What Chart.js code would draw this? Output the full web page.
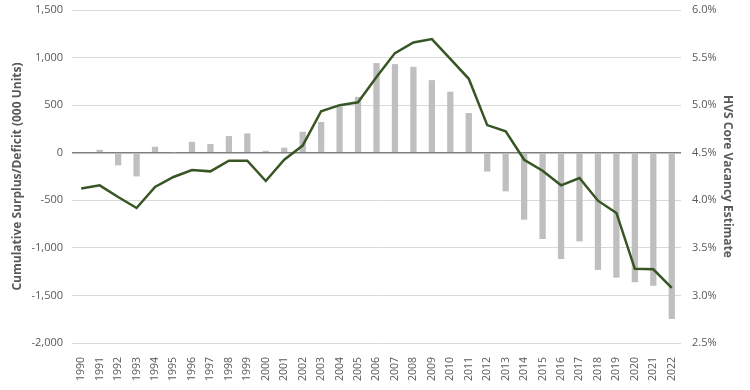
<!DOCTYPE html>
<html>
<head>
<meta charset="utf-8">
<script src="https://cdn.jsdelivr.net/npm/chart.js@4"></script>
<style>
  html, body { margin: 0; padding: 0; background: #fff; }
  #wrap { width: 750px; height: 390px; }
</style>
</head>
<body>
<div id="wrap"><canvas id="chart" width="750" height="390"></canvas></div>
<script>
// years on the category axis
const years = [
  "1990", "1991", "1992", "1993", "1994", "1995", "1996", "1997", "1998", "1999",
  "2000", "2001", "2002", "2003", "2004", "2005", "2006", "2007", "2008", "2009",
  "2010", "2011", "2012", "2013", "2014", "2015", "2016", "2017", "2018", "2019",
  "2020", "2021", "2022"
];

// cumulative surplus / deficit, 000 units (bars, left axis)
const surplus = [
  0, 30, -133, -249, 63, 5, 115, 91, 175, 203,
  20, 53, 220, 324, 486, 587, 942, 931, 903, 763,
  641, 417, -198, -406, -704, -907, -1117, -932, -1232, -1313,
  -1362, -1397, -1747
];

// HVS core vacancy estimate, % (line, right axis)
const vacancy = [
  4.125, 4.157, 4.035, 3.919, 4.14, 4.245, 4.318, 4.304, 4.416, 4.416,
  4.203, 4.426, 4.575, 4.936, 5.0, 5.03, 5.295, 5.547, 5.659, 5.694,
  5.487, 5.277, 4.79, 4.724, 4.426, 4.31, 4.157, 4.234, 3.996, 3.867,
  3.28, 3.275, 3.08
];

const leftTicks = { min: -2000, max: 1500, step: 500 };
const rightTicks = { min: 2.5, max: 6.0, step: 0.5 };

const textColor = "#595959";
const font = "'Open Sans', 'DejaVu Sans', sans-serif";

// fixed margins so the plot area sits where the original does
function fixVertical(width) {
  return (scale) => {
    scale.width = width;
    scale.paddingTop = 0;
    scale.paddingBottom = 0;
  };
}

new Chart(document.getElementById("chart"), {
  data: {
    labels: years,
    datasets: [
      {
        type: "line",
        label: "HVS Core Vacancy Estimate",
        data: vacancy,
        yAxisID: "y1",
        borderColor: "#375623",
        borderWidth: 2.5,
        pointRadius: 0,
        tension: 0,
        order: 0
      },
      {
        type: "bar",
        label: "Cumulative Surplus/Deficit",
        data: surplus,
        yAxisID: "y",
        backgroundColor: "#bfbfbf",
        barPercentage: 0.34,
        categoryPercentage: 1,
        order: 1
      }
    ]
  },
  options: {
    responsive: false,
    animation: false,
    layout: { padding: { top: 10 } },
    plugins: {
      legend: { display: false },
      tooltip: { enabled: false }
    },
    scales: {
      x: {
        grid: { display: false },
        border: { display: false },
        ticks: {
          color: textColor,
          font: { family: font, size: 10.5 },
          minRotation: 90,
          maxRotation: 90,
          autoSkip: false,
          padding: 6
        },
        afterFit: (scale) => { scale.height = 47; }
      },
      y: {
        position: "left",
        min: leftTicks.min,
        max: leftTicks.max,
        border: { display: false },
        grid: {
          drawTicks: false,
          color: (ctx) => ctx.tick && ctx.tick.value === 0 ? "#7f7f7f" : "#d9d9d9",
          lineWidth: (ctx) => ctx.tick && ctx.tick.value === 0 ? 1.5 : 1
        },
        ticks: {
          stepSize: leftTicks.step,
          color: textColor,
          font: { family: font, size: 11 },
          padding: 9,
          callback: (v) => v.toLocaleString("en-US")
        },
        title: {
          display: true,
          text: "Cumulative Surplus/Deficit (000 Units)",
          color: textColor,
          font: { family: font, size: 12, weight: "bold" },
          padding: { top: 10, bottom: 0 }
        },
        afterFit: fixVertical(72)
      },
      y1: {
        position: "right",
        min: rightTicks.min,
        max: rightTicks.max,
        border: { display: false },
        grid: { display: false, drawTicks: false },
        ticks: {
          stepSize: rightTicks.step,
          color: textColor,
          font: { family: font, size: 11 },
          padding: 11,
          callback: (v) => v.toFixed(1) + "%"
        },
        title: {
          display: true,
          text: "HVS Core Vacancy Estimate",
          color: textColor,
          font: { family: font, size: 12, weight: "bold" },
          padding: { top: 15, bottom: 0 }
        },
        afterFit: fixVertical(69)
      }
    }
  }
});
</script>
</body>
</html>
